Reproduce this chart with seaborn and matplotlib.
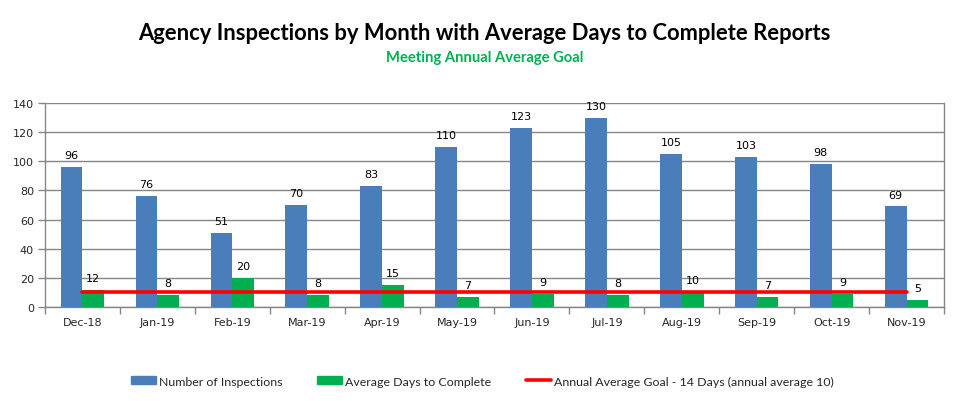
import matplotlib
matplotlib.use("Agg")
import matplotlib.pyplot as plt
import seaborn as sns
import pandas as pd
import numpy as np
from matplotlib.patches import Patch
from matplotlib.lines import Line2D

months = ["Dec-18", "Jan-19", "Feb-19", "Mar-19", "Apr-19", "May-19",
          "Jun-19", "Jul-19", "Aug-19", "Sep-19", "Oct-19", "Nov-19"]
inspections = [96, 76, 51, 70, 83, 110, 123, 130, 105, 103, 98, 69]
avg_days = [12, 8, 20, 8, 15, 7, 9, 8, 10, 7, 9, 5]
goal = [10] * 12
series_names = ["Number of Inspections", "Average Days to Complete"]
goal_name = "Annual Average Goal - 14 Days (annual average 10)"
yticks = [0, 20, 40, 60, 80, 100, 120, 140]

BLUE = "#4A7EBB"
GREEN = "#00B050"
RED = "#FF0000"
GRID = "#868686"

sns.set_theme(style="white")
plt.rcParams['font.family'] = ['DejaVu Sans']

df = pd.DataFrame({
    "Month": months * 2,
    "Value": inspections + avg_days,
    "Series": [series_names[0]] * len(months) + [series_names[1]] * len(months),
})

fig = plt.figure(figsize=(9.6, 4.02), dpi=100)
ax = fig.add_axes([45/960, 1 - 308/402, (944 - 45)/960, (308 - 104)/402])

sns.barplot(data=df, x="Month", y="Value", hue="Series", order=months,
            hue_order=series_names, palette=[BLUE, GREEN], width=0.58,
            saturation=1, ax=ax, legend=False, errorbar=None, zorder=3,
            linewidth=0, edgecolor="none")

for c in ax.containers:
    for p in c:
        h = p.get_height()
        ax.annotate(f"{int(round(h))}", (p.get_x() + p.get_width()/2, h),
                    xytext=(0, 5), textcoords="offset points", ha="center",
                    va="bottom", fontsize=8, color="black", zorder=5)

ax.plot(range(len(months)), goal, color=RED, lw=2.6, zorder=4)

ax.set_ylim(0, 140)
ax.set_xlim(-0.5, len(months) - 0.5)
ax.set_yticks(yticks)
ax.set_yticklabels([str(v) for v in yticks], fontsize=8)
ax.set_xticks(range(len(months)))
ax.set_xticklabels(months, fontsize=8)
ax.set_xticks(np.arange(-0.5, len(months), 1), minor=True)
ax.tick_params(axis="x", which="major", length=0, pad=7)
ax.tick_params(axis="x", which="minor", length=5, color=GRID, width=1, direction="out", bottom=True)
ax.tick_params(axis="y", length=5, color=GRID, width=1, direction="out", left=True, pad=3)
ax.set_xlabel("")
ax.set_ylabel("")
ax.yaxis.grid(True, color=GRID, lw=1)
ax.set_axisbelow(True)
for s in ["left", "bottom", "right"]:
    ax.spines[s].set_visible(True)
    ax.spines[s].set_color(GRID)
    ax.spines[s].set_linewidth(1)
ax.spines["top"].set_visible(False)

fig.text(0.505, 1 - 33/402, "Agency Inspections by Month with Average Days to Complete Reports",
         ha="center", va="center", fontsize=15.8, fontweight="bold",
         family=["Lato", "DejaVu Sans"], color="black")
fig.text(0.505, 1 - 58/402, "Meeting Annual Average Goal", ha="center", va="center",
         fontsize=10.6, fontweight="bold", family=["Lato", "DejaVu Sans"], color=GREEN)

handles = [Patch(facecolor=BLUE, edgecolor=BLUE),
           Patch(facecolor=GREEN, edgecolor=GREEN),
           Line2D([0], [0], color=RED, lw=2.6)]
leg = fig.legend(handles, series_names + [goal_name], loc="center",
                 bbox_to_anchor=(482.5/960, 1 - 382/402), ncol=3, frameon=False,
                 prop={"family": ["Lato", "DejaVu Sans"], "size": 8.9},
                 handlelength=2.0, handleheight=0.55, handletextpad=0.25,
                 columnspacing=2.8)

fig.savefig("out.png", dpi=100)
